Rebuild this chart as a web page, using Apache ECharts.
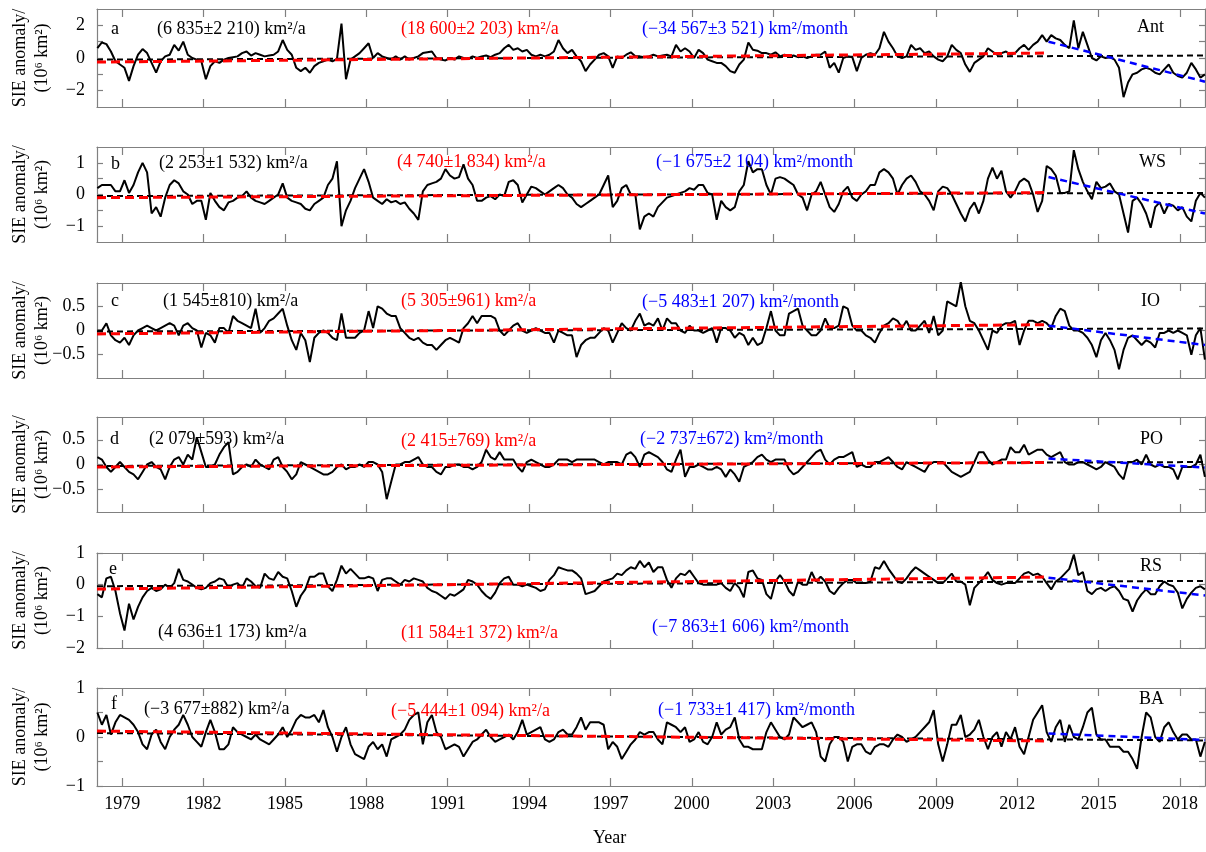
<!DOCTYPE html>
<html><head><meta charset="utf-8">
<script src="https://cdn.jsdelivr.net/npm/echarts@6/dist/echarts.min.js"></script>
<style>html,body{margin:0;padding:0;background:#fff}#c{width:1206px;height:852px}</style>
</head><body><div id="c"></div>
<script>
// ---------------- DATA ----------------
const firstYear = 1978;          // first data year (bimonthly values, 6 per year)
const perYear = 6;
const xMin = 1978.07, xMax = 2018.92;
const yearTicks = [1979,1982,1985,1988,1991,1994,1997,2000,2003,2006,2009,2012,2015,2018];
const panelLetters = ['a','b','c','d','e','f'];
const regionNames = ['Ant','WS','IO','PO','RS','BA'];
const rateAll = ['(6 835±2 210) km²/a','(2 253±1 532) km²/a','(1 545±810) km²/a','(2 079±593) km²/a','(4 636±1 173) km²/a','(−3 677±882) km²/a'];
const rateEarly = ['(18 600±2 203) km²/a','(4 740±1 834) km²/a','(5 305±961) km²/a','(2 415±769) km²/a','(11 584±1 372) km²/a','(−5 444±1 094) km²/a'];
const rateLate = ['(−34 567±3 521) km²/month','(−1 675±2 104) km²/month','(−5 483±1 207) km²/month','(−2 737±672) km²/month','(−7 863±1 606) km²/month','(−1 733±1 417) km²/month'];

const sieAnt = [
0.6,0.95,0.85,0.4,-0.2,-0.4,
-0.6,-1.4,-0.5,0.2,0.55,0.3,
-0.3,-0.9,-0.2,0.1,0.2,0.8,
0.45,1.0,0.2,0.0,-0.1,-0.2,
-1.3,-0.5,-0.2,-0.3,-0.1,0.0,
0.05,0.1,0.3,0.4,0.15,0.3,
0.2,0.1,0.15,0.2,0.4,1.1,
0.5,0.2,-0.6,-0.8,-0.6,-0.9,
-0.5,-0.3,-0.2,-0.1,-0.2,-0.05,
2.1,-1.3,-0.1,0.1,0.3,0.6,
0.9,0.0,0.3,0.1,0.0,-0.1,
0.1,-0.1,0.1,-0.1,0.0,0.1,
0.3,0.35,0.4,0.0,-0.1,-0.15,
0.0,-0.1,0.1,0.0,-0.05,0.1,
0.0,0.1,0.15,0.05,0.2,0.3,
0.6,0.8,0.5,0.6,0.4,0.5,
0.2,0.1,0.2,0.1,0.2,0.4,
1.1,0.6,0.3,0.5,0.1,-0.2,
-0.8,-0.4,-0.1,0.2,0.3,0.1,
-0.6,0.1,0.0,0.2,0.35,0.1,
0.1,0.05,0.1,0.2,0.1,0.15,
0.2,0.1,0.8,0.4,0.6,0.4,
0.0,0.5,0.3,-0.1,-0.2,-0.3,
-0.3,-0.5,-0.8,-0.9,-0.4,-0.1,
0.95,0.5,0.45,0.3,0.3,0.2,
0.35,0.1,0.2,0.1,0.15,0.05,
0.1,0.0,0.1,0.2,0.2,0.4,
-0.6,-0.3,-0.9,0.0,0.1,0.05,
-0.8,0.0,0.2,0.3,0.2,0.6,
1.6,1.0,0.6,0.1,0.0,0.1,
0.8,0.5,0.6,0.3,0.4,0.1,
-0.1,-0.2,0.1,0.8,0.5,0.3,
-0.4,-0.85,-0.3,-0.1,0.1,0.6,
0.4,0.2,0.3,0.4,0.2,0.3,
0.6,0.8,0.5,0.8,1.0,1.4,
1.0,1.4,1.2,1.1,0.8,0.6,
2.3,0.6,1.6,0.8,0.0,-0.15,
0.1,0.0,0.05,-0.1,-0.6,-2.4,
-1.5,-1.0,-0.9,-0.7,-0.6,-0.7,
-0.9,-1.0,-0.7,-0.4,-0.9,-1.1,
-1.2,-0.9,-0.3,-0.7,-1.2,-1.0];

const sieWS = [
0.2,0.3,0.3,0.3,0.1,0.1,
0.45,0.05,0.3,0.7,1.0,0.7,
-0.6,-0.4,-0.7,-0.1,0.3,0.45,
0.35,0.1,0.0,-0.3,-0.2,-0.2,
-0.8,0.05,-0.2,-0.4,-0.5,-0.25,
-0.2,-0.1,-0.05,0.1,-0.1,-0.2,
-0.25,-0.3,-0.2,-0.1,0.0,0.35,
-0.1,-0.2,-0.25,-0.3,-0.45,-0.5,
-0.3,-0.2,-0.1,0.3,0.5,1.05,
-1.0,-0.5,-0.2,0.2,0.5,0.8,
0.4,-0.1,-0.2,-0.3,-0.15,-0.25,
-0.2,-0.3,-0.25,-0.45,-0.6,-0.8,
0.1,0.3,0.35,0.4,0.5,0.8,
0.6,0.5,0.55,0.95,0.5,0.3,
-0.2,-0.2,-0.1,-0.05,-0.15,0.0,
-0.05,0.4,0.45,0.3,-0.25,0.0,
0.25,0.2,0.1,0.0,0.1,0.2,
0.3,0.2,0.0,-0.1,-0.3,-0.4,
-0.3,-0.2,-0.1,0.0,0.3,0.6,
-0.4,-0.2,0.2,0.3,0.0,0.0,
-1.1,-0.7,-0.6,-0.7,-0.4,-0.25,
-0.1,-0.05,0.0,0.05,0.1,0.2,
0.15,0.3,0.3,0.05,0.0,-0.8,
-0.2,-0.4,-0.5,-0.4,0.1,0.3,
1.05,0.7,0.8,0.8,0.3,0.0,
0.5,0.55,0.5,0.4,0.3,0.0,
-0.1,-0.5,0.0,0.1,0.4,0.0,
-0.4,-0.55,-0.3,0.1,0.25,-0.1,
-0.2,0.0,0.1,0.3,0.3,0.7,
0.8,0.7,0.5,0.0,0.3,0.5,
0.6,0.4,0.1,0.0,-0.2,-0.5,
0.1,0.25,0.2,0.0,-0.3,-0.6,
-0.85,-0.45,-0.25,-0.6,-0.2,0.5,
0.85,0.5,0.75,0.1,-0.1,0.1,
0.4,0.5,0.4,0.0,-0.55,-0.2,
0.9,0.8,0.6,0.05,0.05,0.1,
1.4,0.8,0.4,0.1,-0.15,0.4,
0.2,0.25,0.35,0.1,0.0,-0.6,
-1.2,-0.2,-0.1,-0.3,-0.6,-1.05,
-0.4,-0.25,-0.6,-0.3,-0.35,-0.5,
-0.4,-0.7,-0.85,-0.2,0.05,-0.1];

const sieIO = [
0.0,0.0,0.15,-0.1,-0.2,-0.25,
-0.15,-0.3,-0.1,0.0,0.05,0.1,
0.05,0.0,0.05,0.1,0.15,0.1,
-0.1,0.1,0.15,0.05,0.0,-0.35,
-0.05,-0.1,-0.25,0.05,0.05,-0.05,
0.3,0.2,0.15,0.1,0.05,0.45,
-0.05,0.05,0.2,0.25,0.35,0.45,
0.1,-0.2,-0.4,-0.05,-0.2,-0.65,
-0.15,-0.05,0.0,-0.05,-0.15,-0.2,
0.35,-0.15,-0.15,-0.15,-0.05,0.0,
0.4,0.05,0.5,0.45,0.35,0.3,
0.3,0.05,-0.05,-0.15,-0.2,-0.15,
-0.25,-0.3,-0.3,-0.4,-0.3,-0.2,
-0.15,-0.2,-0.25,0.05,0.15,0.3,
0.15,0.3,0.3,0.3,0.25,0.0,
-0.1,0.0,0.1,0.15,0.0,-0.05,
0.0,0.05,0.0,-0.05,-0.05,-0.25,
0.0,-0.05,-0.1,-0.1,-0.55,-0.3,
-0.2,-0.15,-0.15,-0.05,0.05,0.0,
-0.25,-0.05,0.15,0.05,0.0,0.2,
0.35,0.1,0.15,0.1,0.25,0.0,
0.25,0.15,0.15,0.0,-0.05,0.1,
0.0,0.0,-0.05,0.0,0.05,-0.25,
0.05,0.05,0.0,-0.15,-0.05,-0.1,
-0.3,-0.15,-0.3,-0.25,0.05,0.4,
0.0,-0.1,-0.1,0.35,0.4,0.45,
0.1,0.0,-0.1,-0.1,0.0,0.25,
0.05,0.05,0.1,0.5,0.45,0.1,
0.0,0.0,-0.1,-0.15,-0.25,-0.05,
0.1,0.15,0.25,0.2,0.05,0.2,
0.0,0.0,0.1,0.2,-0.05,0.3,
-0.1,0.0,0.6,0.55,0.5,1.0,
0.5,0.2,0.15,0.0,-0.2,-0.4,
0.0,-0.05,0.1,0.15,0.15,0.2,
-0.3,0.0,0.2,0.2,0.15,0.2,
0.15,0.05,0.3,0.45,0.4,0.1,
0.0,0.0,-0.05,-0.15,-0.3,-0.55,
-0.2,-0.05,-0.2,-0.4,-0.8,-0.4,
-0.15,-0.1,-0.2,-0.3,-0.2,-0.25,
-0.35,-0.05,-0.05,0.0,-0.05,0.0,
-0.05,-0.1,-0.5,-0.1,0.05,-0.6];

const siePO = [
0.15,0.1,-0.05,-0.15,-0.05,0.05,
-0.05,-0.15,-0.2,-0.3,-0.15,0.0,
0.05,-0.05,-0.1,-0.3,-0.05,0.1,
0.15,0.0,0.2,0.1,0.55,0.25,
-0.05,-0.05,0.0,0.2,0.35,0.45,
-0.2,-0.15,-0.05,0.0,-0.05,0.1,
0.0,-0.05,-0.1,0.1,0.15,-0.05,
-0.15,-0.3,-0.2,0.05,0.0,-0.05,
-0.1,-0.15,-0.2,-0.2,-0.15,-0.05,
0.0,-0.1,-0.05,-0.05,0.0,-0.05,
0.05,0.05,0.0,-0.15,-0.7,-0.35,
0.0,0.0,0.05,0.05,0.1,0.15,
0.0,-0.05,-0.05,-0.15,-0.2,-0.05,
-0.05,0.0,0.0,-0.05,-0.05,-0.1,
-0.05,0.05,0.3,0.15,0.1,0.25,
0.1,0.1,0.1,-0.05,-0.15,0.05,
0.1,0.05,0.0,-0.05,-0.05,0.0,
0.1,0.1,0.1,0.05,0.1,0.1,
0.1,0.1,0.1,0.05,0.0,0.05,
0.05,0.05,0.0,0.2,0.25,0.15,
-0.05,0.2,0.25,0.2,0.15,0.05,
-0.1,-0.15,0.1,0.3,-0.25,-0.05,
-0.05,0.0,-0.05,-0.1,-0.1,-0.05,
-0.1,-0.25,-0.1,-0.2,-0.35,-0.05,
0.0,0.05,0.15,0.2,0.1,0.05,
0.1,0.1,0.1,-0.1,-0.2,-0.15,
-0.05,0.05,0.15,0.25,0.3,0.1,
0.0,0.1,0.15,0.15,0.2,0.25,
-0.05,0.0,-0.05,-0.05,0.05,0.05,
0.1,0.15,0.05,-0.05,-0.1,0.05,
0.0,-0.05,-0.1,-0.15,0.0,0.05,
0.05,0.05,-0.05,-0.15,-0.2,-0.25,
-0.2,-0.15,0.05,0.25,0.25,0.1,
0.0,0.05,0.1,0.1,0.35,0.25,
0.25,0.4,0.2,0.25,0.3,0.3,
0.2,0.15,0.2,0.25,0.05,0.0,
0.0,0.05,0.05,0.0,-0.05,-0.1,
-0.05,0.05,0.0,-0.05,-0.2,-0.3,
0.05,0.05,0.1,0.0,0.2,0.0,
-0.05,0.0,-0.05,-0.05,-0.1,-0.3,
-0.05,-0.05,-0.05,0.0,0.2,-0.25];

const sieRS = [
-0.3,-0.4,0.2,0.25,-0.2,-0.9,
-1.45,-0.6,-1.1,-0.7,-0.4,-0.2,
-0.1,-0.2,-0.15,0.0,-0.1,0.05,
0.5,0.15,0.1,0.0,-0.1,-0.15,
-0.1,0.05,0.1,0.2,0.15,-0.1,
0.0,0.05,-0.1,0.2,0.1,-0.05,
-0.1,0.35,0.2,0.15,0.4,0.25,
0.2,-0.2,-0.7,-0.35,-0.15,0.25,
0.25,0.35,0.35,-0.05,-0.2,0.15,
0.6,0.35,0.5,0.35,0.2,0.2,
0.25,0.2,-0.2,0.15,0.2,0.2,
0.1,0.0,0.15,0.1,0.2,0.15,
0.1,-0.1,-0.2,-0.25,-0.35,-0.45,
-0.3,-0.35,-0.25,-0.15,0.15,0.1,
0.0,-0.2,-0.35,-0.45,-0.25,0.05,
0.2,0.25,0.0,0.0,-0.05,0.0,
-0.05,-0.1,-0.2,-0.15,0.15,0.3,
0.55,0.5,0.45,0.45,0.35,0.2,
-0.3,-0.25,-0.2,-0.05,0.1,0.15,
0.2,0.35,0.3,0.45,0.55,0.5,
0.75,0.55,0.7,0.4,0.55,0.55,
0.15,-0.1,0.2,0.35,0.3,0.45,
0.25,0.05,0.0,0.0,0.0,0.0,
0.05,-0.1,-0.2,0.05,-0.1,-0.4,
0.4,0.45,0.2,0.15,-0.3,-0.45,
0.1,0.3,0.1,-0.2,-0.35,0.1,
0.0,0.0,0.4,0.1,0.25,0.1,
-0.2,-0.3,-0.1,0.05,0.15,0.15,
0.05,0.05,0.05,0.1,0.55,0.5,
0.75,0.5,0.3,0.1,0.05,0.2,
0.4,0.55,0.45,0.35,0.25,0.15,
0.05,0.05,0.2,0.35,0.1,0.1,
0.0,-0.65,-0.1,0.05,0.2,0.4,
0.15,0.05,0.0,0.05,0.05,0.05,
0.2,0.35,0.4,0.3,0.35,0.25,
0.05,-0.15,0.1,0.2,0.35,0.5,
0.95,0.3,0.4,-0.2,-0.3,-0.15,
-0.1,-0.2,-0.1,-0.05,-0.2,-0.45,
-0.5,-0.85,-0.5,-0.3,-0.15,-0.3,
-0.3,-0.05,0.1,0.0,-0.05,-0.25,
-0.75,-0.45,-0.25,-0.1,-0.05,-0.15];

const sieBA = [
0.5,0.25,0.45,0.05,0.3,0.45,
0.4,0.35,0.25,0.1,-0.15,-0.25,
0.05,0.15,-0.1,-0.25,0.0,0.15,
0.25,0.45,0.25,0.0,-0.1,-0.2,
0.1,0.35,0.1,-0.25,-0.25,-0.15,
0.2,0.1,0.05,0.0,-0.05,0.05,
-0.05,-0.1,-0.15,-0.05,0.05,0.2,
0.0,0.15,0.35,0.45,0.4,0.4,
0.45,0.3,0.55,0.2,0.0,-0.3,
0.0,0.2,-0.15,-0.35,-0.4,-0.45,
-0.2,-0.1,-0.25,-0.15,-0.4,-0.05,
0.0,0.05,0.15,0.35,0.45,0.5,
-0.15,0.3,0.45,0.1,0.0,-0.25,
-0.2,-0.15,-0.2,-0.4,-0.25,-0.1,
-0.05,0.05,0.15,0.0,-0.1,-0.05,
0.0,0.05,-0.05,0.1,0.35,0.05,
0.1,0.15,0.2,-0.05,-0.1,-0.05,
0.1,0.15,0.05,0.05,0.2,0.4,
0.15,0.3,0.3,0.3,0.25,-0.25,
-0.1,-0.2,-0.45,-0.3,-0.15,-0.05,
0.1,0.05,0.1,0.1,-0.05,-0.15,
0.3,0.25,0.2,0.1,0.2,-0.1,
-0.05,0.1,-0.1,-0.15,0.0,0.3,
0.05,0.15,0.2,0.4,-0.05,-0.2,
-0.2,-0.25,-0.25,-0.25,0.1,0.3,
0.15,0.0,-0.05,0.05,0.4,0.3,
0.2,0.25,0.3,0.1,-0.4,-0.5,
-0.15,0.0,0.0,-0.1,-0.5,-0.2,
-0.15,-0.15,-0.3,-0.35,-0.2,-0.15,
-0.15,-0.2,-0.05,0.05,0.0,-0.1,
-0.05,0.0,0.1,0.2,0.3,0.55,
-0.15,-0.5,-0.15,0.25,0.25,0.45,
0.0,0.05,0.15,0.35,0.0,-0.25,
0.0,0.1,-0.2,0.1,-0.05,0.2,
-0.2,-0.35,0.0,0.35,0.5,0.65,
0.1,-0.1,0.2,0.35,-0.1,0.25,
0.0,-0.05,0.2,0.5,0.6,0.05,
-0.05,-0.05,-0.2,-0.2,-0.2,-0.3,
-0.3,-0.45,-0.65,0.0,0.5,0.4,
0.0,-0.1,0.2,0.3,0.1,-0.05,
0.05,0.05,-0.05,-0.05,-0.4,-0.1];

// trend line end values [start, end]
const trendFull  = [[-0.1,0.15],[-0.05,0.05],[-0.02,0.04],[-0.03,0.05],[-0.05,0.12],[0.08,-0.07]];
const trendEarly = [[-0.25,0.3],[-0.1,0.06],[-0.07,0.12],[-0.05,0.04],[-0.14,0.24],[0.12,-0.08]];
const trendLate  = [[1.0,-1.45],[0.55,-0.6],[0.1,-0.3],[0.12,-0.06],[0.22,-0.34],[0.07,-0.06]];
const earlyEnd = 2013.0, lateStart = 2013.15;

// axis ranges and ticks
const yMin = [-3,-1.5,-0.98,-0.96,-2,-1];
const yMax = [3,1.5,0.98,0.96,1,1];
const yTickVals  = [[-2,-1,0,1,2],[-1,-0.5,0,0.5,1],[-0.5,0,0.5],[-0.5,0,0.5],[-2,-1,0,1],[-1,-0.5,0,0.5,1]];
const yLabelVals = [[-2,0,2],[-1,0,1],[-0.5,0,0.5],[-0.5,0,0.5],[-2,-1,0,1],[-1,0,1]];

const allSeries = [sieAnt, sieWS, sieIO, siePO, sieRS, sieBA];

// ---------------- LAYOUT ----------------
const FONT = '"Liberation Serif","Times New Roman",serif';
const gridTop = [9,147,283,417,553,688];
const gridH = [98,95,95,95,95,98];
const GRID_LEFT = 97, GRID_W = 1108;
const frameColor = '#808080';
const letterPos = [[111,29],[111,164],[111,301],[110,439],[109,569],[111,704]];
const allPos    = [[157,29],[159,163],[163,301],[149,439],[158,632],[144,709]];
const earlyPos  = [[401,29],[397,162],[401,301],[401,441],[401,633],[391,711]];
const latePos   = [[642,29],[656,162],[642,302],[640,439],[652,627],[658,710]];
const regionPos = [[1137,27],[1139,162],[1141,301],[1140,439],[1140,566],[1139,699]];

const fmtY = v => (v < 0 ? '\u2212' : '') + String(Math.abs(v));

const grids=[], xAxes=[], yAxes=[], series=[], graphics=[];
for (let i=0;i<6;i++){
  grids.push({left:GRID_LEFT, top:gridTop[i], width:GRID_W, height:gridH[i], containLabel:false, outerBoundsMode:'none'});
  const lineSt = {color:frameColor, width:1.2};
  xAxes.push({type:'value', gridIndex:i, position:'bottom', min:xMin, max:xMax,
    axisLine:{show:true, onZero:false, lineStyle:lineSt},
    axisTick:{show:true, inside:true, length:8, customValues:yearTicks, lineStyle:lineSt},
    axisLabel:{show:i===5, customValues:yearTicks, formatter:v=>String(v), fontFamily:FONT, fontSize:18, color:'#000', margin:9},
    splitLine:{show:false}});
  xAxes.push({type:'value', gridIndex:i, position:'top', min:xMin, max:xMax,
    axisLine:{show:true, onZero:false, lineStyle:lineSt},
    axisTick:{show:true, inside:true, length:8, customValues:yearTicks, lineStyle:lineSt},
    axisLabel:{show:false, customValues:yearTicks},
    splitLine:{show:false}});
  yAxes.push({type:'value', gridIndex:i, position:'left', min:yMin[i], max:yMax[i],
    axisLine:{show:true, onZero:false, lineStyle:lineSt},
    axisTick:{show:true, inside:true, length:6, customValues:yTickVals[i], lineStyle:lineSt},
    axisLabel:{show:true, customValues:yLabelVals[i], formatter:fmtY, fontFamily:FONT, fontSize:18, color:'#000', margin:12},
    splitLine:{show:false},
    name:'SIE anomaly/\n(10\u2076 km\u00b2)', nameLocation:'middle', nameGap:44, nameRotate:90, nameMoveOverlap:false,
    nameTextStyle:{fontFamily:FONT, fontSize:18, color:'#000', lineHeight:22}});
  yAxes.push({type:'value', gridIndex:i, position:'right', min:yMin[i], max:yMax[i],
    axisLine:{show:true, onZero:false, lineStyle:lineSt},
    axisTick:{show:true, inside:true, length:6, customValues:yTickVals[i], lineStyle:lineSt},
    axisLabel:{show:false, customValues:yLabelVals[i]},
    splitLine:{show:false}});

  const pts = allSeries[i].map((v,k)=>[firstYear + (k+0.5)/perYear, v]);
  series.push({type:'line', xAxisIndex:2*i, yAxisIndex:2*i, data:pts, showSymbol:false, symbol:'none',
    lineStyle:{color:'#000', width:2}, z:2, animation:false});
  series.push({type:'line', xAxisIndex:2*i, yAxisIndex:2*i, data:[[xMin,trendFull[i][0]],[xMax,trendFull[i][1]]],
    showSymbol:false, symbol:'none', lineStyle:{color:'#000', width:2, type:[6,4]}, z:3, animation:false});
  series.push({type:'line', xAxisIndex:2*i, yAxisIndex:2*i, data:[[xMin,trendEarly[i][0]],[earlyEnd,trendEarly[i][1]]],
    showSymbol:false, symbol:'none', lineStyle:{color:'#ff0000', width:3, type:[9,5]}, z:4, animation:false});
  series.push({type:'line', xAxisIndex:2*i, yAxisIndex:2*i, data:[[lateStart,trendLate[i][0]],[xMax,trendLate[i][1]]],
    showSymbol:false, symbol:'none', lineStyle:{color:'#0000ff', width:2.5, type:[7,5]}, z:5, animation:false});

  const txt = (p, text, fill) => ({type:'text', x:p[0], y:p[1], z:100,
    style:{text, fill, font:`18px ${FONT}`, textAlign:'left', textVerticalAlign:'middle', align:'left', verticalAlign:'middle'}});
  graphics.push(txt(letterPos[i], panelLetters[i], '#000'));
  graphics.push(txt(allPos[i], rateAll[i], '#000'));
  graphics.push(txt(earlyPos[i], rateEarly[i], '#ff0000'));
  graphics.push(txt(latePos[i], rateLate[i], '#0000ff'));
  graphics.push(txt(regionPos[i], regionNames[i], '#000'));
}
graphics.push({type:'text', x:593, y:838, z:100,
  style:{text:'Year', fill:'#000', font:`18px ${FONT}`, textAlign:'left', textVerticalAlign:'middle', align:'left', verticalAlign:'middle'}});

const chart = echarts.init(document.getElementById('c'), null, {renderer:'canvas', width:1206, height:852});
chart.setOption({
  animation:false,
  backgroundColor:'#fff',
  grid:grids, xAxis:xAxes, yAxis:yAxes, series:series, graphic:graphics
});
</script>
</body></html>
